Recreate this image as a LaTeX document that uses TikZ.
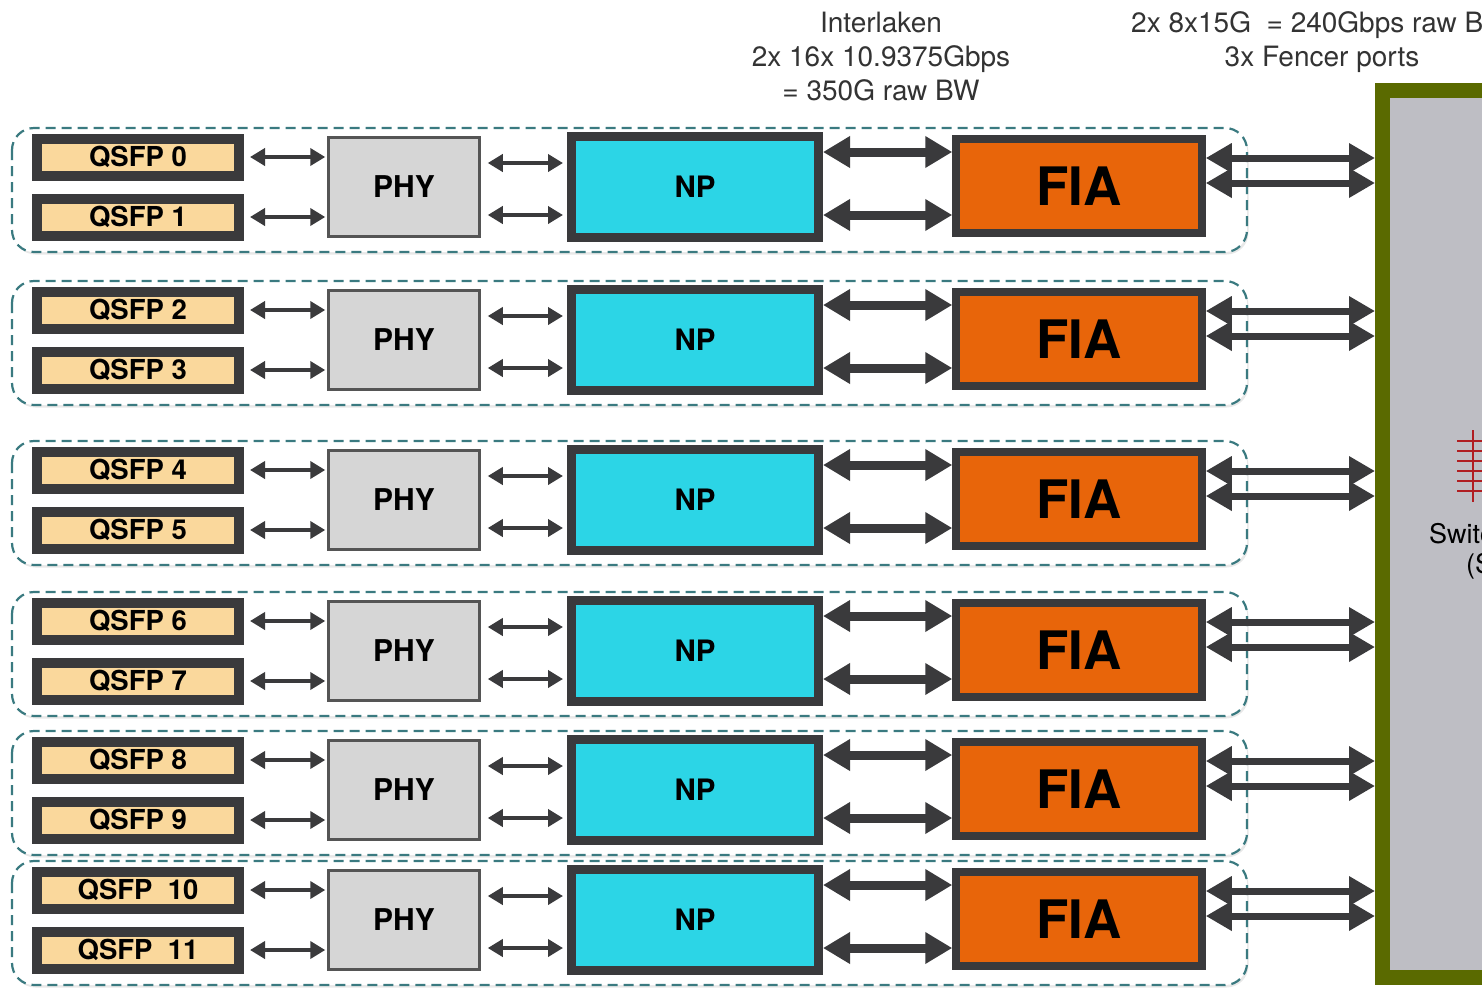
\documentclass[tikz,border=0pt]{standalone}
\usepackage{fontspec}
\setmainfont{TeX Gyre Heros}
\usetikzlibrary{arrows.meta,calc,shadows}
\definecolor{boxdark}{HTML}{3A3A3C}
\definecolor{qsfpfill}{HTML}{FAD89C}
\definecolor{phyfill}{HTML}{D6D6D6}
\definecolor{phyline}{HTML}{555555}
\definecolor{npfill}{HTML}{2CD5E6}
\definecolor{fiafill}{HTML}{E8650A}
\definecolor{swgreen}{HTML}{5A6A00}
\definecolor{swgray}{HTML}{BEBEC4}
\definecolor{ladderred}{HTML}{B01E22}
\definecolor{grpline}{HTML}{3A7A80}
\definecolor{arrowc}{HTML}{3A3A3C}
\definecolor{txtgray}{HTML}{333333}
\begin{document}
\begin{tikzpicture}[x=1pt,y=-1pt,
  qsfp/.style={draw=boxdark, fill=qsfpfill, line width=10pt, minimum width=202pt, minimum height=37pt, inner sep=0pt, font=\fontsize{27.5}{27.5}\selectfont\bfseries, text=black},
  phy/.style={draw=phyline, fill=phyfill, line width=2.5pt, minimum width=151pt, minimum height=99pt, inner sep=0pt, font=\fontsize{30}{30}\selectfont\bfseries, text=black},
  np/.style={draw=boxdark, fill=npfill, line width=9pt, minimum width=247pt, minimum height=101pt, inner sep=0pt, font=\fontsize{29.5}{29.5}\selectfont\bfseries, text=black},
  fia/.style={draw=boxdark, fill=fiafill, line width=7.5pt, minimum width=246pt, minimum height=94pt, inner sep=0pt, font=\fontsize{53}{53}\selectfont\bfseries, text=black},
  grp/.style={draw=grpline, fill=white, line width=2.2pt, dash pattern=on 10pt off 6pt, rounded corners=22pt, drop shadow={shadow xshift=1.5pt, shadow yshift=-2.5pt, opacity=0.18, fill=gray}},
  sarr/.style={draw=arrowc, line width=4pt, {Triangle[length=15pt,width=17pt]}-{Triangle[length=15pt,width=17pt]}},
  marr/.style={draw=arrowc, line width=9pt, {Triangle[length=27pt,width=30pt]}-{Triangle[length=27pt,width=30pt]}},
  larr/.style={draw=arrowc, line width=7pt, {Triangle[length=26pt,width=28pt]}-{Triangle[length=26pt,width=28pt]}},
  toptext/.style={inner sep=0pt, font=\fontsize{28}{28}\selectfont, text=txtgray},
  swtext/.style={inner sep=0pt, font=\fontsize{27}{27}\selectfont, text=black}
]
\useasboundingbox (0,0) rectangle (1482,989);
\clip (0,0) rectangle (1482,989);
\fill[white] (0,0) rectangle (1482,989);

% switch fabric box (cut by the right edge)
\node[draw=swgreen, fill=swgray, line width=15pt, minimum width=400pt, minimum height=887pt, inner sep=0pt, anchor=north west] (sw) at (1375,83) {};
\draw[ladderred, line width=2.5pt] (1473,430) -- (1473,502);
\foreach \yy in {441,451,461,471,481,491}
  \draw[ladderred, line width=2.5pt] (1457,\yy) -- (1490,\yy);
\node[swtext, anchor=base west] (swl1) at (1429,543) {Switch};
\node[swtext, anchor=base west] (swl2) at (1466,573) {(S};

% top texts
\node[toptext, anchor=base] (il1) at (881,32) {Interlaken};
\node[toptext, anchor=base] (il2) at (881,66) {2x 16x 10.9375Gbps};
\node[toptext, anchor=base] (il3) at (881,100) {= 350G raw BW};
\node[toptext, anchor=base west] (fb1) at (1131,32) {2x 8x15G\ \ = 240Gbps raw BW};
\node[toptext, anchor=base] (fb2) at (1322,66) {3x Fencer ports};

% rows
\foreach \r/\ya/\la/\lb in {1/157/{QSFP 0}/{QSFP 1},2/310/{QSFP 2}/{QSFP 3},3/470/{QSFP 4}/{QSFP 5},4/621/{QSFP 6}/{QSFP 7},5/760/{QSFP 8}/{QSFP 9},6/890/{QSFP\ \ 10}/{QSFP\ \ 11}}{
  \draw[grp] (12,\ya-29) rectangle (1247,\ya+95);
  \node[qsfp] (qa\r) at (138,\ya) {\la};
  \node[qsfp] (qb\r) at (138,\ya+60) {\lb};
  \node[phy] (phy\r) at (404,\ya+30) {PHY};
  \node[np] (np\r) at (695,\ya+30) {NP};
  \node[fia] (fia\r) at (1079,\ya+29) {FIA};
  % QSFP <-> PHY
  \draw[sarr, shorten <=6pt, shorten >=2pt] (qa\r.east) -- (qa\r.east -| phy\r.west);
  \draw[sarr, shorten <=6pt, shorten >=2pt] (qb\r.east) -- (qb\r.east -| phy\r.west);
  % PHY <-> NP
  \path ($(phy\r.east)+(0,-24)$) coordinate (pa) ($(phy\r.east)+(0,28)$) coordinate (pb);
  \draw[sarr, shorten <=7pt, shorten >=4pt] (pa) -- (pa -| np\r.west);
  \draw[sarr, shorten <=7pt, shorten >=4pt] (pb) -- (pb -| np\r.west);
  % NP <-> FIA (Interlaken)
  \path ($(np\r.east)+(0,-35)$) coordinate (na) ($(np\r.east)+(0,28)$) coordinate (nb);
  \draw[marr] (na) -- (na -| fia\r.west);
  \draw[marr] (nb) -- (nb -| fia\r.west);
  % FIA <-> switch fabric
  \path ($(fia\r.east)+(0,-28)$) coordinate (fa) ($(fia\r.east)+(0,-3)$) coordinate (fb);
  \draw[larr] (fa) -- (fa -| sw.west);
  \draw[larr] (fb) -- (fb -| sw.west);
}
\end{tikzpicture}
\end{document}
